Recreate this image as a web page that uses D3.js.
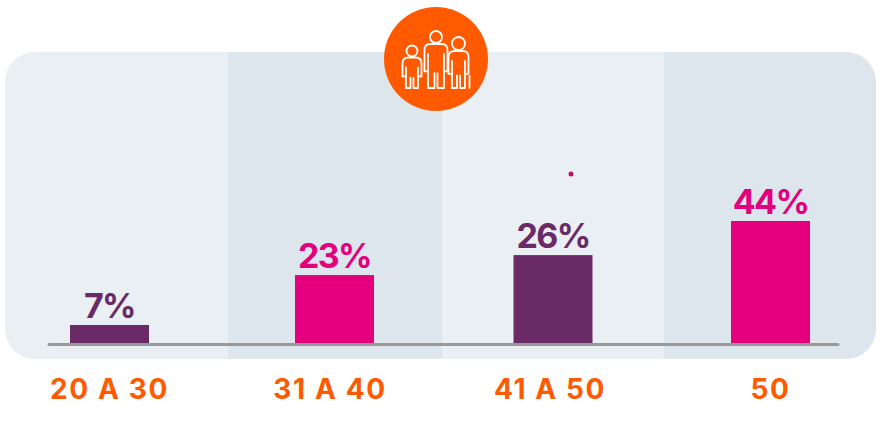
<!DOCTYPE html>
<html lang="en">
<head>
    <meta charset="UTF-8">
    <script src="https://cdn.jsdelivr.net/npm/d3@7"></script>
    <title>Edades</title>
    <style>
        body { margin: 0; background: #fff; }
        svg { display: block; }
        text { font-family: Inter, "Open Sans", sans-serif; font-weight: 700; text-anchor: middle; }
        .value { font-size: 34px; letter-spacing: -1.6px; }
        .category { font-size: 28px; letter-spacing: 1.6px; fill: #ff5a00; }
    </style>
</head>
<body>
    <div id="chart"></div>

    <script>
        const categories = ["20 A 30", "31 A 40", "41 A 50", "50"];
        const valueLabels = ["7%", "23%", "26%", "44%"];
        // bar heights as drawn in the picture, they don't follow the printed labels exactly
        const barValues = [6.5, 24.5, 31.7, 44];
        const barColors = ["#6a2a67", "#e4007c", "#6a2a67", "#e4007c"];
        const bandColors = ["#e9eff3", "#dee6ed", "#e9eff3", "#dee6ed"];

        const width = 886, height = 423;
        const panel = { left: 5, right: 876, top: 52, bottom: 359, radius: 30 };
        const baseline = 343;
        const barWidth = 79;

        const svg = d3.select("#chart").append("svg").attr("width", width).attr("height", height);

        const x = d3.scaleOrdinal().domain(categories).range([109.5, 334.5, 553, 770.5]);
        // category labels are not quite centred under the bars
        const labelX = d3.scaleOrdinal().domain(categories).range([109.5, 330, 550, 770.5]);
        const bandEdge = d3.scaleOrdinal().domain(categories).range([5, 228, 442, 664]);
        const y = d3.scaleLinear().domain([0, 44]).range([baseline, 221]);

        // rounded panel clips the alternating bands
        svg.append("clipPath").attr("id", "panel-clip").append("rect")
            .attr("x", panel.left).attr("y", panel.top)
            .attr("width", panel.right - panel.left).attr("height", panel.bottom - panel.top)
            .attr("rx", panel.radius);

        svg.append("g").attr("clip-path", "url(#panel-clip)")
            .selectAll("rect").data(categories).enter().append("rect")
            .attr("x", d => bandEdge(d))
            .attr("y", panel.top)
            .attr("width", (d, i) => (i < 3 ? bandEdge(categories[i + 1]) : panel.right) - bandEdge(d))
            .attr("height", panel.bottom - panel.top)
            .attr("fill", (d, i) => bandColors[i]);

        svg.selectAll(".bar").data(categories).enter().append("rect").attr("class", "bar")
            .attr("x", d => x(d) - barWidth / 2)
            .attr("y", (d, i) => y(barValues[i]))
            .attr("width", barWidth)
            .attr("height", (d, i) => baseline - y(barValues[i]))
            .attr("fill", (d, i) => barColors[i]);

        svg.append("line")
            .attr("x1", 49).attr("x2", 838).attr("y1", 344.5).attr("y2", 344.5)
            .attr("stroke", "#999").attr("stroke-width", 3).attr("stroke-linecap", "round");

        svg.selectAll(".value").data(categories).enter().append("text").attr("class", "value")
            .attr("x", d => x(d))
            .attr("y", (d, i) => y(barValues[i]) - 7)
            .attr("fill", (d, i) => barColors[i])
            .text((d, i) => valueLabels[i]);

        svg.selectAll(".category").data(categories).enter().append("text").attr("class", "category")
            .attr("x", d => labelX(d))
            .attr("y", 399)
            .text(d => d);

        // stray dot above the third bar
        svg.append("circle").attr("cx", 571).attr("cy", 174).attr("r", 2.5).attr("fill", "#b5126f");

        // people icon
        const icon = svg.append("g");
        icon.append("circle").attr("cx", 436).attr("cy", 59).attr("r", 52).attr("fill", "#ff5a00");

        function person(cx, headY, headR, bodyW, cane) {
            const g = icon.append("g").attr("fill", "none").attr("stroke", "#fff").attr("stroke-width", 1.8)
                .attr("stroke-linejoin", "round").attr("stroke-linecap", "round");
            g.append("circle").attr("cx", cx).attr("cy", headY).attr("r", headR);
            const top = headY + headR + 1, bot = 88, w = bodyW / 2;
            const armEnd = top + (bot - top) * 0.62;
            const crotch = top + (bot - top) * 0.66;

            // arms and shoulders
            const arms = d3.path();
            arms.moveTo(cx - w + 3.5, armEnd);
            arms.lineTo(cx - w, armEnd);
            arms.lineTo(cx - w, top + 6);
            arms.quadraticCurveTo(cx - w, top, cx - w + 6, top);
            arms.lineTo(cx + w - 6, top);
            arms.quadraticCurveTo(cx + w, top, cx + w, top + 6);
            arms.lineTo(cx + w, armEnd);
            arms.lineTo(cx + w - 3.5, armEnd);
            g.append("path").attr("d", arms.toString());

            // legs, the split goes up from the feet
            const legs = d3.path();
            legs.moveTo(cx - w + 3.5, top + 10);
            legs.lineTo(cx - w + 3.5, bot);
            legs.lineTo(cx - 1.5, bot);
            legs.lineTo(cx - 1.5, crotch);
            legs.moveTo(cx + 1.5, crotch);
            legs.lineTo(cx + 1.5, bot);
            legs.lineTo(cx + w - 3.5, bot);
            legs.lineTo(cx + w - 3.5, top + 10);
            g.append("path").attr("d", legs.toString());

            if (cane) {
                g.append("line").attr("x1", cx + w + 1).attr("x2", cx + w + 1).attr("y1", armEnd + 2).attr("y2", bot);
            }
        }
        person(412, 51, 5.5, 19, false);
        person(436, 37, 6, 23, false);
        person(458.5, 43.5, 6.5, 20, true);
    </script>
</body>
</html>
